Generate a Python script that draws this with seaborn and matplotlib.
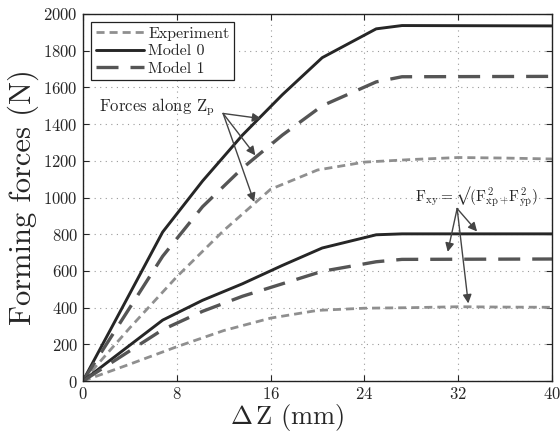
import numpy as np
import pandas as pd
import seaborn as sns
import matplotlib
matplotlib.use('Agg')
import matplotlib.pyplot as plt

# values
dz_exp = [0, 4, 8, 12, 16, 20, 24, 28, 32, 36, 40]
exp_zp = [0, 290, 568, 820, 1045, 1150, 1193, 1207, 1218, 1215, 1210]
exp_xy = [0, 92, 187, 275, 343, 385, 397, 400, 405, 403, 402]

dz_model = [0, 3.4, 6.8, 10.2, 13.6, 17.0, 20.4, 25.0, 27.2, 40]
m0_zp = [0, 405, 812, 1090, 1340, 1560, 1762, 1919, 1937, 1935]
m1_zp = [0, 340, 680, 950, 1160, 1340, 1500, 1630, 1658, 1660]
m0_xy = [0, 166, 332, 440, 530, 630, 725, 797, 802, 802]
m1_xy = [0, 140, 280, 380, 462, 530, 598, 650, 663, 665]

x_ticks = [0, 8, 16, 24, 32, 40]
y_ticks = list(range(0, 2001, 200))

sns.set_style('ticks')
plt.rcParams['font.family'] = 'serif'
plt.rcParams['font.serif'] = ['cmr10', 'DejaVu Serif']
plt.rcParams['mathtext.fontset'] = 'cm'
plt.rcParams['axes.formatter.use_mathtext'] = True

fig = plt.figure(figsize=(5.6, 4.37), dpi=100)
ax = fig.add_axes([0.148, 0.128, 0.838, 0.840])

styles = {
    'Experiment': dict(color='#8f8f8f', lw=2.0, dashes=(2.9, 1.8)),
    'Model 0': dict(color='#262626', lw=2.1, dashes=''),
    'Model 1': dict(color='#555555', lw=2.4, dashes=(6.6, 3.6)),
}

series = [
    ('Experiment', dz_exp, exp_zp, True),
    ('Model 0', dz_model, m0_zp, True),
    ('Model 1', dz_model, m1_zp, True),
    ('Experiment', dz_exp, exp_xy, False),
    ('Model 0', dz_model, m0_xy, False),
    ('Model 1', dz_model, m1_xy, False),
]

for name, xs, ys, lab in series:
    st = styles[name]
    df = pd.DataFrame({'dz': xs, 'f': ys})
    sns.lineplot(data=df, x='dz', y='f', ax=ax, color=st['color'],
                 lw=st['lw'], estimator=None, sort=False,
                 label=name if lab else None, legend=False)
    l = ax.lines[-1]
    if st['dashes']:
        l.set_dashes(st['dashes'])

ax.set_xlim(0, 40)
ax.set_ylim(0, 2000)
ax.set_xticks(x_ticks)
ax.set_yticks(y_ticks)
ax.tick_params(direction='in', top=True, right=True, length=4, labelsize=12,
               width=0.8)
ax.grid(True, linestyle=(0, (1, 4)), color='#9a9a9a', lw=0.8)
for sp in ax.spines.values():
    sp.set_linewidth(1.0)
    sp.set_color('#222222')

ax.set_xlabel(r'$\Delta\,\mathrm{Z}$ (mm)', fontsize=19)
ax.xaxis.set_label_coords(0.435, -0.058)
ax.set_ylabel('Forming forces (N)', fontsize=22, labelpad=3)

leg = ax.legend(loc='upper left', fontsize=11.5, handlelength=3.0,
                borderpad=0.3, labelspacing=0.2, handletextpad=0.3,
                borderaxespad=0.5, fancybox=False, framealpha=1)
leg.get_frame().set_edgecolor('#222222')
leg.get_frame().set_linewidth(0.9)

arrow = dict(arrowstyle='-|>', color='#444444', lw=1.0, mutation_scale=13,
             shrinkA=0, shrinkB=0)
ax.text(1.35, 1491, r'Forces along $\mathrm{Z_p}$', fontsize=12,
        va='center', ha='left')
for tip in [(15.2, 1430), (14.7, 1230), (14.6, 976)]:
    ax.annotate('', xy=tip, xytext=(11.95, 1458), arrowprops=arrow)

ax.text(28.3, 1003,
        '$\\mathrm{F_{xy}} = \u221a(\\mathrm{F^{\\,2}_{xp}}_{+}\\mathrm{F^{\\,2}_{yp}})$',
        fontsize=11, va='center', ha='left')
for tip in [(33.6, 815), (31.1, 704), (32.85, 423)]:
    ax.annotate('', xy=tip, xytext=(31.9, 940), arrowprops=arrow)

fig.savefig('out.png', dpi=100)
